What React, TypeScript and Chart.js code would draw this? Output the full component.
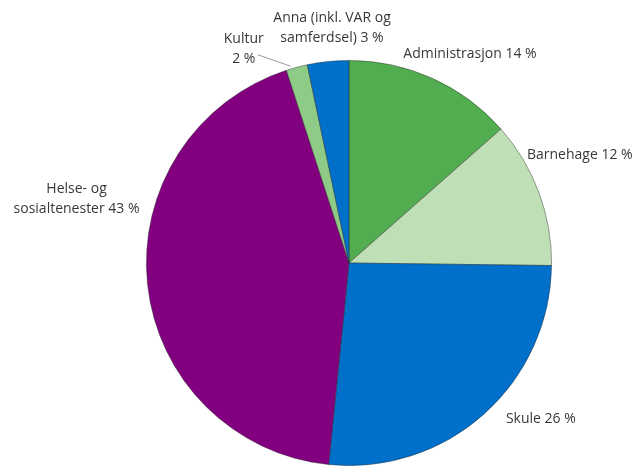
import React, { useEffect, useRef } from "react";
import { Chart, registerables } from "chart.js";

Chart.register(...registerables);

const categories = [
  "Administrasjon",
  "Barnehage",
  "Skule",
  "Helse- og sosialtenester",
  "Kultur",
  "Anna (inkl. VAR og samferdsel)",
];
const shares = [13.5, 11.7, 26.4, 43.4, 1.7, 3.3];
const labelLines = [
  ["Administrasjon 14 %"],
  ["Barnehage 12 %"],
  ["Skule 26 %"],
  ["Helse- og", "sosialtenester 43 %"],
  ["Kultur", "2 %"],
  ["Anna (inkl. VAR og", "samferdsel) 3 %"],
];
const colors = ["#52ad51", "#bfdfb6", "#0070cb", "#820080", "#8ecb86", "#0070cb"];

// label placement relative to the slice's rim point (dx, dy in px) and alignment
const labelLayout = [
  { dx: -29, dy: -24, align: "left" },
  { dx: -12, dy: -38, align: "left" },
  { dx: 22, dy: 5, align: "left" },
  { dx: -71, dy: -86, align: "center" },
  { dx: -53, dy: -18, align: "center", leader: true },
  { dx: 4, dy: -33, align: "center" },
];

const labelPlugin = {
  id: "pieLabels",
  afterDatasetsDraw(chart: any) {
    const ctx = chart.ctx;
    const meta = chart.getDatasetMeta(0);
    ctx.save();
    ctx.font = "14px 'Open Sans'";
    ctx.fillStyle = "#383838";
    ctx.textBaseline = "middle";
    meta.data.forEach((arc: any, i: number) => {
      const { x, y, startAngle, endAngle, outerRadius } = arc.getProps(
        ["x", "y", "startAngle", "endAngle", "outerRadius"],
        true
      );
      const mid = (startAngle + endAngle) / 2;
      const rx = x + Math.cos(mid) * outerRadius;
      const ry = y + Math.sin(mid) * outerRadius;
      const lay = labelLayout[i];
      const lx = rx + lay.dx;
      const ly = ry + lay.dy;
      ctx.textAlign = lay.align;
      const lines = labelLines[i];
      const lh = 20;
      const top = ly - ((lines.length - 1) * lh) / 2;
      lines.forEach((t, k) => ctx.fillText(t, lx, top + k * lh));
      if (lay.leader) {
        ctx.strokeStyle = "#9a9a9a";
        ctx.lineWidth = 1;
        ctx.beginPath();
        ctx.moveTo(lx + 14, ly + 5.5);
        ctx.lineTo(rx - 6, ry - 1);
        ctx.stroke();
      }
    });
    ctx.restore();
  },
};

export default function App() {
  const ref = useRef<HTMLCanvasElement>(null);
  useEffect(() => {
    document.body.style.margin = "0";
    const chart = new Chart(ref.current!, {
      type: "pie",
      data: {
        labels: categories,
        datasets: [
          {
            data: shares,
            backgroundColor: colors,
            borderColor: "rgba(40,40,40,0.55)",
            borderWidth: 0.8,
          },
        ],
      },
      options: {
        responsive: false,
        animation: false,
        layout: { padding: { left: 146, right: 82, top: 60, bottom: 0 } },
        plugins: {
          legend: { display: false },
          tooltip: { enabled: false },
        },
      },
      plugins: [labelPlugin],
    });
    return () => chart.destroy();
  }, []);
  return <canvas ref={ref} width={634} height={466} style={{ display: "block" }} />;
}
